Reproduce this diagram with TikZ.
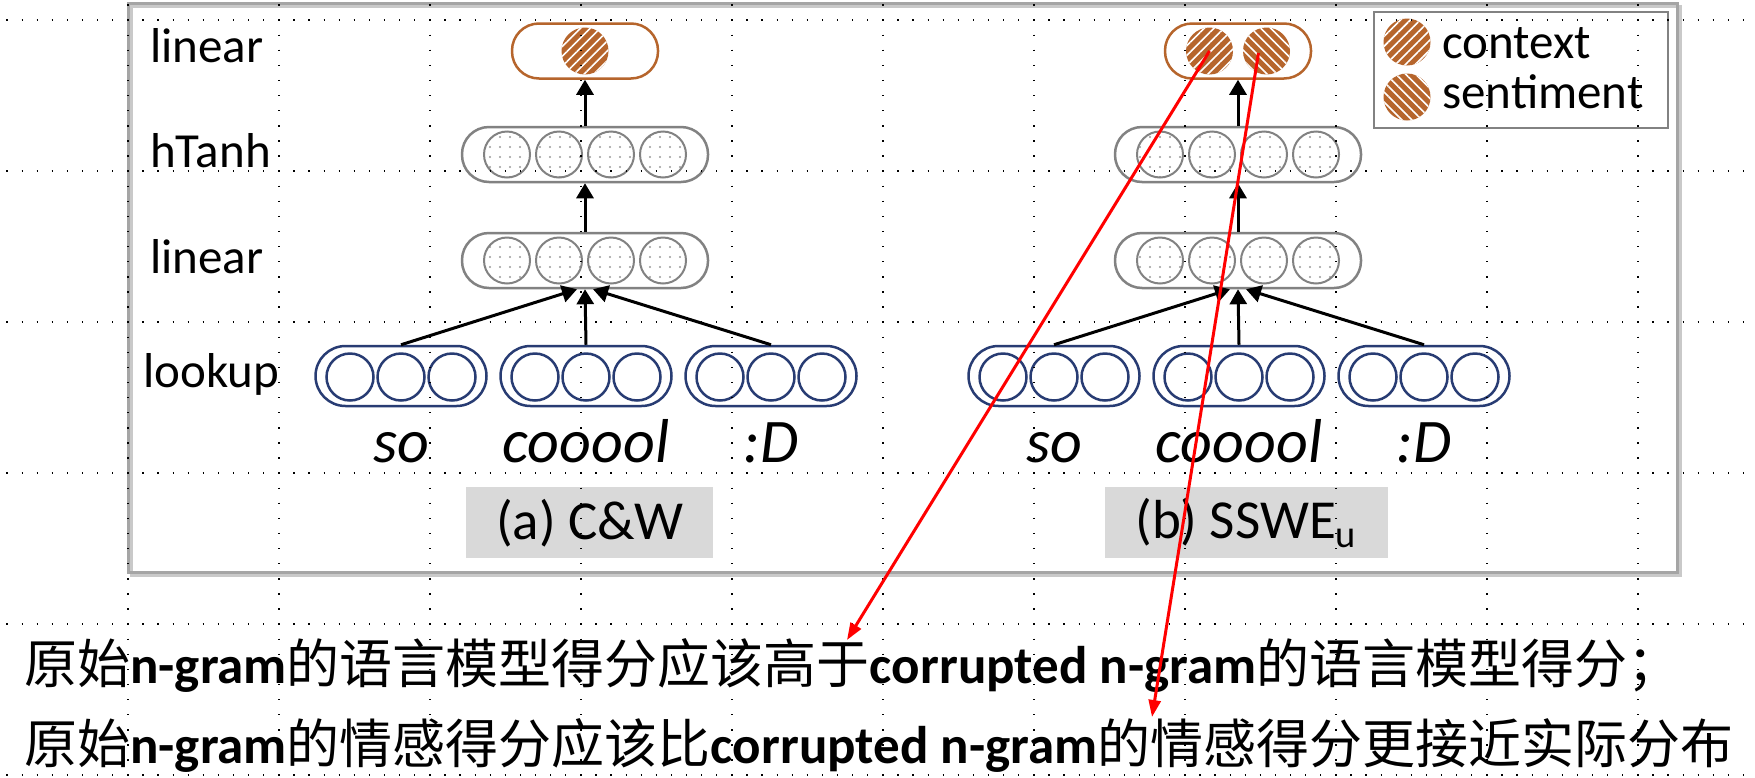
\documentclass[tikz,border=0pt]{standalone}
\usepackage{fontspec}
\setmainfont{Carlito}
\newfontfamily\cjk{Noto Sans CJK SC}
\usetikzlibrary{arrows.meta,patterns.meta}
\definecolor{brn}{RGB}{182,101,44}
\definecolor{gry}{RGB}{130,130,130}
\definecolor{navyc}{RGB}{40,60,115}
\definecolor{capgray}{RGB}{217,217,217}
\definecolor{framegray}{RGB}{165,165,165}
\tikzset{
  lbl/.style={font=\fontsize{49}{59}\selectfont, inner sep=0, anchor=base west},
  word/.style={font=\fontsize{62}{70}\selectfont\itshape, inner sep=0, anchor=base},
  captxt/.style={font=\fontsize{55}{62}\selectfont, inner sep=0},
  bottxt/.style={anchor=base west, inner sep=0, font=\fontsize{53}{60}\selectfont},
  brownpill/.style={draw=brn, line width=2.5pt, rounded corners=27pt, minimum width=146pt, minimum height=55pt, inner sep=0},
  graypill/.style={draw=gry, line width=2.5pt, rounded corners=27pt, minimum width=246pt, minimum height=55pt, inner sep=0},
  bluepill/.style={draw=navyc, line width=2.5pt, rounded corners=30pt, minimum width=171pt, minimum height=60pt, inner sep=0},
  dotcirc/.style={circle, draw=gry, line width=2pt, minimum size=46pt, inner sep=0, pattern={Dots[distance=10pt,radius=1.2pt]}, pattern color=gry!80},
  bluecirc/.style={circle, draw=navyc, line width=2.5pt, minimum size=47pt, inner sep=0},
  ctxcirc/.style={circle, fill=brn, minimum size=47pt, inner sep=0, postaction={pattern={Lines[angle=45,distance=7pt,line width=1.6pt]}, pattern color=white}},
  sencirc/.style={circle, fill=brn, minimum size=47pt, inner sep=0, postaction={pattern={Lines[angle=-45,distance=7pt,line width=1.6pt]}, pattern color=white}},
  arr/.style={draw=black, line width=3pt, -{Triangle[length=15pt,width=17pt]}},
  redarr/.style={draw=red, line width=3pt, -{Triangle[length=17pt,width=12pt]}},
  griddot/.style={draw=black, line width=1.3pt, dash pattern=on 1.3pt off 13.8pt}
}
\begin{document}
\begin{tikzpicture}[x=1pt, y=-1pt]
\useasboundingbox (0,0) rectangle (1755,777);
\fill[white] (0,0) rectangle (1755,777);
% frame
\draw[framegray!60, line width=3pt] (131,6) rectangle (1680,575);
\draw[framegray, line width=3pt] (128,3) rectangle (1677,572);
% left labels
\node[lbl] (lab1) at (150,62) {linear};
\node[lbl] (lab2) at (150,167) {hTanh};
\node[lbl] (lab3) at (150,273) {linear};
\node[lbl] (lab4) at (143,387) {lookup};
% panels
\foreach \p/\ox in {a/0,b/653}{
  \node[graypill] (\p-tanh) at ({585+\ox},154.5) {};
  \node[graypill] (\p-lin) at ({585+\ox},260.5) {};
  \foreach \i/\dx in {1/-78,2/-26,3/26,4/78}{
    \node[dotcirc] (\p-t\i) at ({585+\ox+\dx},154.5) {};
    \node[dotcirc] (\p-l\i) at ({585+\ox+\dx},260.5) {};
  }
  \foreach \w/\cx/\txt in {1/401/so,2/586/cooool,3/771/:D}{
    \node[bluepill] (\p-w\w) at ({\cx+\ox},376) {};
    \foreach \k/\dx in {1/-51,2/0,3/51}
      \node[bluecirc] (\p-w\w c\k) at ({\cx+\ox+\dx},377) {};
    \node[word] (\p-txt\w) at ({\cx+\ox},462) {\txt};
  }
  \draw[arr] (\p-lin.north) -- (\p-tanh.south);
  \draw[arr] (\p-w1.north) -- ([xshift=-8pt]\p-lin.south);
  \draw[arr] (\p-w2.north) -- (\p-lin.south);
  \draw[arr] (\p-w3.north) -- ([xshift=8pt]\p-lin.south);
}
% output layers
\node[brownpill] (a-out) at (585,51) {};
\node[ctxcirc] (a-o1) at (585,51) {};
\node[brownpill] (b-out) at (1238,51) {};
\node[ctxcirc] (b-ctx) at (1209.5,51) {};
\node[sencirc] (b-sen) at (1266.5,51) {};
\draw[arr] (a-tanh.north) -- (a-out.south);
\draw[arr] (b-tanh.north) -- (b-out.south);
% captions
\fill[capgray] (466,487) rectangle (713,558);
\node[captxt] (capa) at (590,523) {(a) C\&W};
\fill[capgray] (1105,487) rectangle (1388,558);
\node[captxt] (capb) at (1246,523) {(b) SSWE\textsubscript{u}};
% legend
\draw[gry, line width=2.5pt] (1374,12) rectangle (1668,128);
\node[ctxcirc] (lg1) at (1407,42) {};
\node[sencirc] (lg2) at (1407,97) {};
\node[lbl] (lgt1) at (1442,58) {context};
\node[lbl] (lgt2) at (1442,108) {sentiment};
% bottom text
\node[bottxt] (line1) at (24,683)
  {{\cjk 原始}\textbf{n-gram}{\cjk 的语言模型得分应该高于}\textbf{corrupted n-gram}{\cjk 的语言模型得分；}};
\node[bottxt] (line2) at (24,763)
  {{\cjk 原始}\textbf{n-gram}{\cjk 的情感得分应该比}\textbf{corrupted n-gram}{\cjk 的情感得分更接近实际分布}};
% grid of dots
\foreach \gy in {20,171,322,473,624,775}
  \draw[griddot] (6.4,\gy) -- (1755,\gy);
\foreach \gx in {128,279,430,581,732,883,1034,1185,1336,1487,1638}
  \draw[griddot] (\gx,4.4) -- (\gx,777);
% red arrows
\coordinate (tip1) at (847,640);
\coordinate (tip2) at (1152,717);
\draw[redarr] (b-ctx.center) -- (tip1);
\draw[redarr] ([xshift=-8pt,yshift=-2pt]b-sen.center) -- (tip2);
\end{tikzpicture}
\end{document}
